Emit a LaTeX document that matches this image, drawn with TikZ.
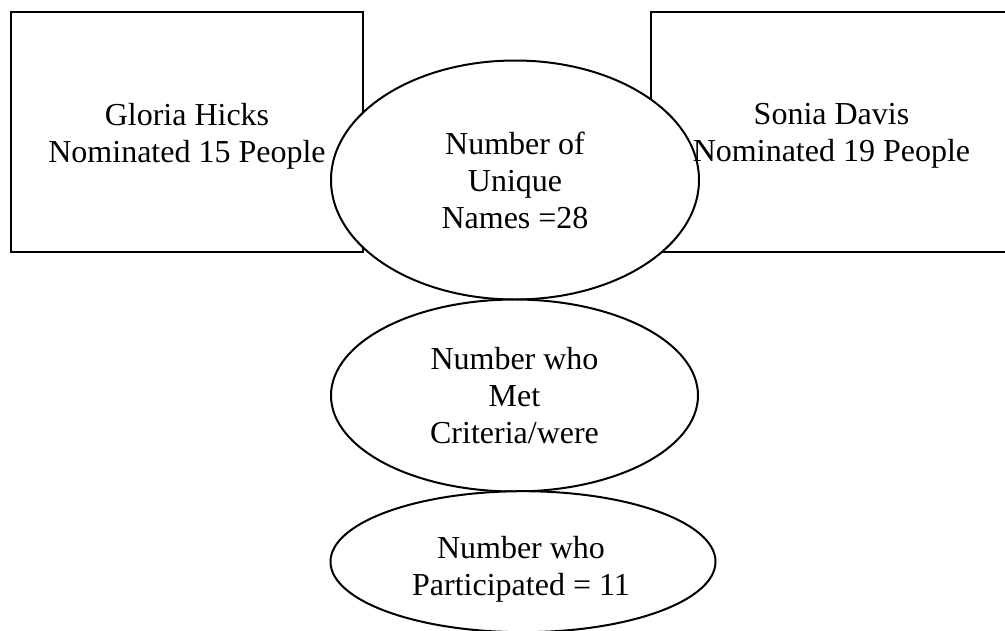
\documentclass[tikz,border=0pt]{standalone}
\usepackage{fontspec}
\setmainfont{Liberation Serif}
\usetikzlibrary{shapes.geometric}
\begin{document}
\begin{tikzpicture}[x=1pt,y=-1pt,
  every node/.style={font=\fontsize{32}{37}\selectfont, align=center},
  box/.style={draw=black, line width=2pt, fill=white, rectangle, inner sep=0pt},
  oval/.style={draw=black, line width=2pt, fill=white, ellipse, inner sep=0pt},
  label/.style={inner sep=0pt}]
\useasboundingbox (0,0) rectangle (1005,630);
\clip (0,0) rectangle (1005,630);
% boxes
\node[box, minimum width=352pt, minimum height=240pt] (gh) at (187,132) {};
\node[box, minimum width=361pt, minimum height=240pt] (sd) at (831.5,132) {};
% ellipses
\node[oval, minimum width=368pt, minimum height=239pt] (uniq) at (515,180) {Number of\\Unique\\Names =28};
\node[oval, minimum width=367pt, minimum height=192pt] (met) at (514.5,395.5) {Number who\\Met\\Criteria/were};
\node[oval, minimum width=385pt, minimum height=141pt] (part) at (523,561.7) {};
% texts
\node[label] (ghtext) at ([yshift=-4pt]gh.center) {Gloria Hicks\\Nominated 15 People};
\node[label] (sdtext) at ([yshift=-4pt]sd.center) {Sonia Davis\\Nominated 19 People};
\node[label] (parttext) at ([xshift=-2pt,yshift=-8pt]part.center) {Number who\\Participated = 11};
\end{tikzpicture}
\end{document}
